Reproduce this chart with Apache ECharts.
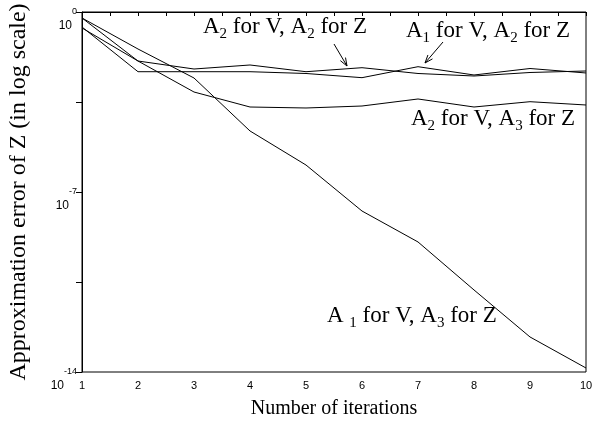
<!DOCTYPE html>
<html>
<head>
<meta charset="utf-8">
<script src="https://cdn.jsdelivr.net/npm/echarts@6/dist/echarts.min.js"></script>
<style>
html, body { margin: 0; padding: 0; background: #fff; }
#chart { width: 602px; height: 429px; }
</style>
</head>
<body>
<div id="chart"></div>
<script>
// iterations on the x axis
var iterations = [1, 2, 3, 4, 5, 6, 7, 8, 9, 10];

// approximation error of Z
var errA1vA3z = [5.85e-1, 3.64e-2, 2.71e-3, 2.36e-5, 1.12e-6, 1.82e-8, 1.14e-9, 1.55e-11, 2.30e-13, 1.43e-14];
var errA2vA2z = [5.85e-1, 1.24e-2, 6.07e-3, 8.69e-3, 4.76e-3, 6.82e-3, 4.06e-3, 3.24e-3, 4.44e-3, 5.08e-3];
var errA1vA2z = [2.61e-1, 4.76e-3, 4.76e-3, 4.76e-3, 4.06e-3, 2.79e-3, 7.46e-3, 3.55e-3, 6.35e-3, 4.25e-3];
var errA2vA3z = [2.39e-1, 1.24e-2, 7.74e-4, 2.02e-4, 1.85e-4, 2.21e-4, 4.14e-4, 2.02e-4, 3.25e-4, 2.42e-4];

// labelled powers of ten on the y axis
var yTickExp = [0, -7, -14];

var chartDom = document.getElementById('chart');
var myChart = echarts.init(chartDom, null, { renderer: 'canvas' });

function toLogPairs(values) {
    return iterations.map(function (x, i) {
        return [x, Math.log10(values[i])];
    });
}

function lineSeries(name, values) {
    return {
        name: name,
        type: 'line',
        data: toLogPairs(values),
        showSymbol: false,
        symbol: 'none',
        lineStyle: { color: '#000', width: 1 },
        silent: true
    };
}

var serif = '"Liberation Serif", "Times New Roman", serif';
var sans = '"Liberation Sans", Arial, sans-serif';

var labelRich = {
    n: { fontFamily: serif, fontSize: 23, color: '#000', lineHeight: 30, verticalAlign: 'middle' },
    sub: { fontFamily: serif, fontSize: 15, color: '#000', lineHeight: 15, verticalAlign: 'bottom' }
};

function curveLabel(text, x, y) {
    return {
        type: 'text',
        x: x,
        y: y,
        silent: true,
        style: {
            text: text,
            rich: labelRich,
            verticalAlign: 'middle',
            align: 'left'
        }
    };
}

function arrow(x1, y1, x2, y2) {
    var dx = x2 - x1, dy = y2 - y1;
    var len = Math.sqrt(dx * dx + dy * dy);
    var ux = dx / len, uy = dy / len;
    var hl = 8, hw = 3;
    var bx = x2 - ux * hl, by = y2 - uy * hl;
    return [
        { type: 'line', silent: true, shape: { x1: x1, y1: y1, x2: x2, y2: y2 }, style: { stroke: '#000', lineWidth: 1 } },
        { type: 'polyline', silent: true,
          shape: { points: [[bx - uy * hw, by + ux * hw], [x2, y2], [bx + uy * hw, by - ux * hw]] },
          style: { stroke: '#000', lineWidth: 1, fill: null } }
    ];
}

var option = {
    backgroundColor: '#fff',
    animation: false,
    grid: {
        left: 82,
        right: 16,
        top: 12,
        bottom: 57,
        show: true,
        borderColor: '#000',
        borderWidth: 1,
        containLabel: false,
        outerBoundsMode: 'none'
    },
    xAxis: {
        type: 'value',
        min: 1,
        max: 10,
        interval: 1,
        name: 'Number of iterations',
        nameLocation: 'middle',
        nameGap: 27,
        nameTextStyle: { fontFamily: serif, fontSize: 20, color: '#000' },
        axisLine: { show: true, lineStyle: { color: '#000', width: 1 } },
        axisTick: { show: true, length: 4, lineStyle: { color: '#000' } },
        minorTick: { show: true, splitNumber: 2, length: 4, lineStyle: { color: '#000' } },
        axisLabel: { margin: 8, fontFamily: sans, fontSize: 11, color: '#000' },
        splitLine: { show: false },
        minorSplitLine: { show: false }
    },
    yAxis: {
        type: 'value',
        min: -14,
        max: 0,
        interval: 3.5,
        name: 'Approximation error of Z (in log scale)',
        nameLocation: 'middle',
        nameGap: 51,
        nameTextStyle: { fontFamily: serif, fontSize: 24, color: '#000' },
        axisLine: { show: true, lineStyle: { color: '#000', width: 1 } },
        axisTick: { show: true, length: 6, lineStyle: { color: '#000' } },
        axisLabel: {
            margin: 5,
            verticalAlign: 'middle',
            formatter: function (v) {
                if (yTickExp.indexOf(v) < 0) return '';
                return '{b|10}{s|' + v + '}';
            },
            rich: {
                b: { fontFamily: sans, fontSize: 12, color: '#000', lineHeight: 13, verticalAlign: 'bottom' },
                s: { fontFamily: sans, fontSize: 9, color: '#000', lineHeight: 40, verticalAlign: 'middle' }
            }
        },
        splitLine: { show: false }
    },
    series: [
        lineSeries('A1 for V, A3 for Z', errA1vA3z),
        lineSeries('A2 for V, A2 for Z', errA2vA2z),
        lineSeries('A1 for V, A2 for Z', errA1vA2z),
        lineSeries('A2 for V, A3 for Z', errA2vA3z)
    ],
    graphic: [
        curveLabel('{n|A}{sub|2}{n| for V, A}{sub|2}{n| for Z}', 203, 27),
        curveLabel('{n|A}{sub|1}{n| for V, A}{sub|2}{n| for Z}', 406, 31),
        curveLabel('{n|A}{sub|2}{n| for V, A}{sub|3}{n| for Z}', 411, 119),
        curveLabel('{n|A }{sub|1}{n| for V, A}{sub|3}{n| for Z}', 327, 316)
    ].concat(arrow(334, 44, 347, 66)).concat(arrow(443, 42, 425, 63))
};

myChart.setOption(option);
</script>
</body>
</html>
